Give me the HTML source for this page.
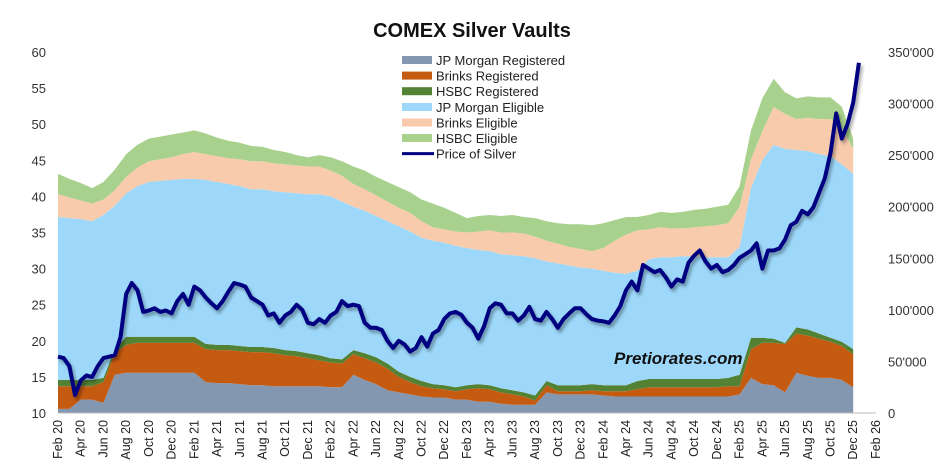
<!DOCTYPE html>
<html><head><meta charset="utf-8"><style>
body{margin:0;background:#fff;width:945px;height:471px;overflow:hidden}
svg{display:block;font-family:"Liberation Sans",sans-serif}
</style></head><body>
<svg id="chart" width="945" height="471" viewBox="0 0 945 471">
<defs><filter id="sh" x="-5%" y="-5%" width="110%" height="120%"><feDropShadow dx="2" dy="3" stdDeviation="1.5" flood-color="#000" flood-opacity="0.35"/></filter></defs>
<text x="472" y="37" text-anchor="middle" font-size="20" font-weight="bold" fill="#111">COMEX Silver Vaults</text>
<g id="areas"></g>
<g id="line"></g>
<g id="axes"></g>
<text x="614" y="364" font-size="17" font-weight="bold" font-style="italic" fill="#111">Pretiorates.com</text>
<g id="legend"></g>
</svg>
<script>
const months=["Feb 20","Apr 20","Jun 20","Aug 20","Oct 20","Dec 20","Feb 21","Apr 21","Jun 21","Aug 21","Oct 21","Dec 21","Feb 22","Apr 22","Jun 22","Aug 22","Oct 22","Dec 22","Feb 23","Apr 23","Jun 23","Aug 23","Oct 23","Dec 23","Feb 24","Apr 24","Jun 24","Aug 24","Oct 24","Dec 24","Feb 25","Apr 25","Jun 25","Aug 25","Oct 25","Dec 25","Feb 26"];
const leftTicks=[10,15,20,25,30,35,40,45,50,55,60];
const rightTicks=["0","50'000","100'000","150'000","200'000","250'000","300'000","350'000"];
// thousand oz, monthly Feb20..Dec25
const jpmReg=[4,4,13,13,10,37,39,39,39,39,39,39,39,30,29,29,28,27,27,26,26,26,26,26,25,25,37,32,28,22,20,18,16,15,15,13,13,11,11,9,8,8,8,20,18,18,18,18,17,16,16,16,16,16,16,16,16,16,16,16,18,34,28,27,20,39,36,34,34,32,25];
const brinksReg=[22,22,13,13,20,21,27,29,29,29,29,29,29,32,32,32,32,32,32,32,30,29,27,25,24,23,20,21,21,21,15,12,10,9,8,8,10,13,12,11,10,8,4,7,3,3,3,4,4,5,5,7,9,9,9,9,9,9,9,10,8,28,40,41,47,38,39,38,35,33,32];
const hsbcReg=[6,6,6,6,4,4,8,6,6,6,6,6,6,5,5,5,5,5,5,5,5,5,5,5,4,4,4,5,5,5,5,5,5,4,4,4,4,4,4,4,4,4,5,4,6,6,6,6,6,6,6,8,8,8,8,8,8,8,8,8,11,11,5,4,1,6,6,5,4,4,5];
const jpmElig=[158,157,156,154,158,139,139,146,150,151,152,153,153,159,158,156,155,153,153,152,153,153,154,156,157,153,139,138,137,138,141,141,139,139,138,137,133,130,130,130,131,132,133,116,118,116,114,112,111,109,108,107,116,118,118,119,119,118,118,117,124,145,172,188,188,172,173,174,176,172,170];
const brinksElig=[22,20,18,17,15,15,16,18,20,21,22,24,26,25,25,25,26,27,27,27,27,27,27,27,25,25,22,21,20,19,18,18,16,13,13,14,15,18,20,21,22,22,21,20,19,18,18,17,22,31,38,39,29,29,28,27,28,30,31,33,39,28,28,37,34,30,32,34,36,35,24];
const hsbcElig=[20,18,17,15,17,20,22,22,22,22,22,21,21,20,18,17,16,15,14,13,12,10,9,11,13,14,17,18,18,19,20,20,21,23,21,18,14,15,15,16,17,16,18,19,20,22,24,25,24,20,17,13,14,15,15,16,17,17,18,18,20,28,32,27,21,20,21,21,21,21,10];
// USD, half-month steps Feb20..Dec25
const silverPrice=[17.8,17.6,16.5,12.5,14.5,15.2,15.0,16.5,17.6,17.8,18.0,20.5,26.5,28.0,27.0,24.0,24.2,24.5,24.0,24.2,23.8,25.5,26.5,25.0,27.5,27.0,26.0,25.2,24.5,25.5,26.8,28.0,27.8,27.5,26.0,25.5,25.0,23.5,23.8,22.5,23.5,24.0,25.0,24.3,22.5,22.3,23.0,22.5,23.5,24.0,25.5,24.8,25.0,24.8,22.5,21.8,21.8,21.5,20.0,19.0,20.0,19.5,18.5,19.0,20.5,19.2,21.0,21.5,23.0,23.8,24.0,23.6,22.5,21.8,20.3,22.0,24.5,25.2,25.0,23.8,23.8,22.8,23.5,24.7,23.0,22.8,24.0,23.0,21.8,23.0,23.8,24.5,24.5,23.7,23.0,22.8,22.7,22.5,23.5,24.8,27.0,28.2,27.0,30.5,30.0,29.5,29.8,28.8,27.5,28.5,28.2,30.8,31.8,32.5,31.0,30.0,30.5,29.5,29.8,30.5,31.5,32.0,32.5,33.5,30.0,32.5,32.5,32.8,34.0,36.0,36.5,38.0,37.5,38.5,40.5,42.5,46.0,51.5,48.0,50.0,53.0,58.5];

const NS="http://www.w3.org/2000/svg";
const X0=58, MW=11.36, YB=413, YT=52;
function xm(m){return X0+m*MW;}
function yL(v){return YB-(v-10)/50*(YB-YT);}
function yR(v){return YB-v/350*(YB-YT);}
function mk(tag,attrs,parent){const e=document.createElementNS(NS,tag);for(const k in attrs)e.setAttribute(k,attrs[k]);parent.appendChild(e);return e;}

const series=[jpmReg,brinksReg,hsbcReg,jpmElig,brinksElig,hsbcElig];
const names=["JP Morgan Registered","Brinks Registered","HSBC Registered","JP Morgan Eligible","Brinks Eligible","HSBC Eligible"];
const colors=["#8497B0","#C55A11","#548235","#9DD8FA","#F8CBAD","#A9D18E"];
const keys=["jpm-registered","brinks-registered","hsbc-registered","jpm-eligible","brinks-eligible","hsbc-eligible"];
const areas=document.getElementById('areas');
let base=new Array(jpmReg.length).fill(0);
series.forEach((s,k)=>{
  const top=base.map((b,i)=>b+s[i]);
  let pts=[];
  top.forEach((v,i)=>pts.push(xm(i).toFixed(1)+","+yR(v).toFixed(1)));
  for(let i=base.length-1;i>=0;i--)pts.push(xm(i).toFixed(1)+","+yR(base[i]).toFixed(1));
  const p=mk('polygon',{points:pts.join(' '),fill:colors[k]},areas);
  
  
  base=top;
});

const lg=document.getElementById('line');
const lpts=silverPrice.map((v,i)=>xm(i*0.5).toFixed(1)+","+yL(v).toFixed(1)).join(' ');
const pl=mk('polyline',{points:lpts,fill:'none',stroke:'#000080','stroke-width':4,'stroke-linejoin':'round',filter:'url(#sh)'},lg);



const ax=document.getElementById('axes');
const bl=mk('line',{x1:X0,x2:xm(72),y1:YB,y2:YB,stroke:'#bbb','stroke-width':1},ax);


leftTicks.forEach(v=>{
  const t=mk('text',{x:46,y:yL(v)+5,'text-anchor':'end','font-size':13,fill:'#333'},ax);
  t.textContent=v;
  
  
});
rightTicks.forEach((s,i)=>{
  const t=mk('text',{x:888,y:yR(i*50)+5,'text-anchor':'start','font-size':13,fill:'#333'},ax);
  t.textContent=s;
  
  
});
months.forEach((m,i)=>{
  const x=xm(i*2)+4;
  const t=mk('text',{x:x,y:420,'text-anchor':'end','font-size':12.5,fill:'#222',transform:'rotate(-90 '+x+' 420)'},ax);
  t.textContent=m;
  
  
});

const leg=document.getElementById('legend');
const ly=[60,75.6,91.2,107,122.5,138,153.6];
names.forEach((n,k)=>{
  const r=mk('rect',{x:402,y:ly[k]-4,width:30,height:8,fill:colors[k]},leg);
  
  
  const t=mk('text',{x:436,y:ly[k]+5,'font-size':13,fill:'#222'},leg);
  t.textContent=n;
  
  
});
const ll=mk('line',{x1:402,x2:434,y1:ly[6],y2:ly[6],stroke:'#000080','stroke-width':3},leg);


const lt=mk('text',{x:436,y:ly[6]+5,'font-size':13,fill:'#222'},leg);
lt.textContent="Price of Silver";


</script>
</body></html>
